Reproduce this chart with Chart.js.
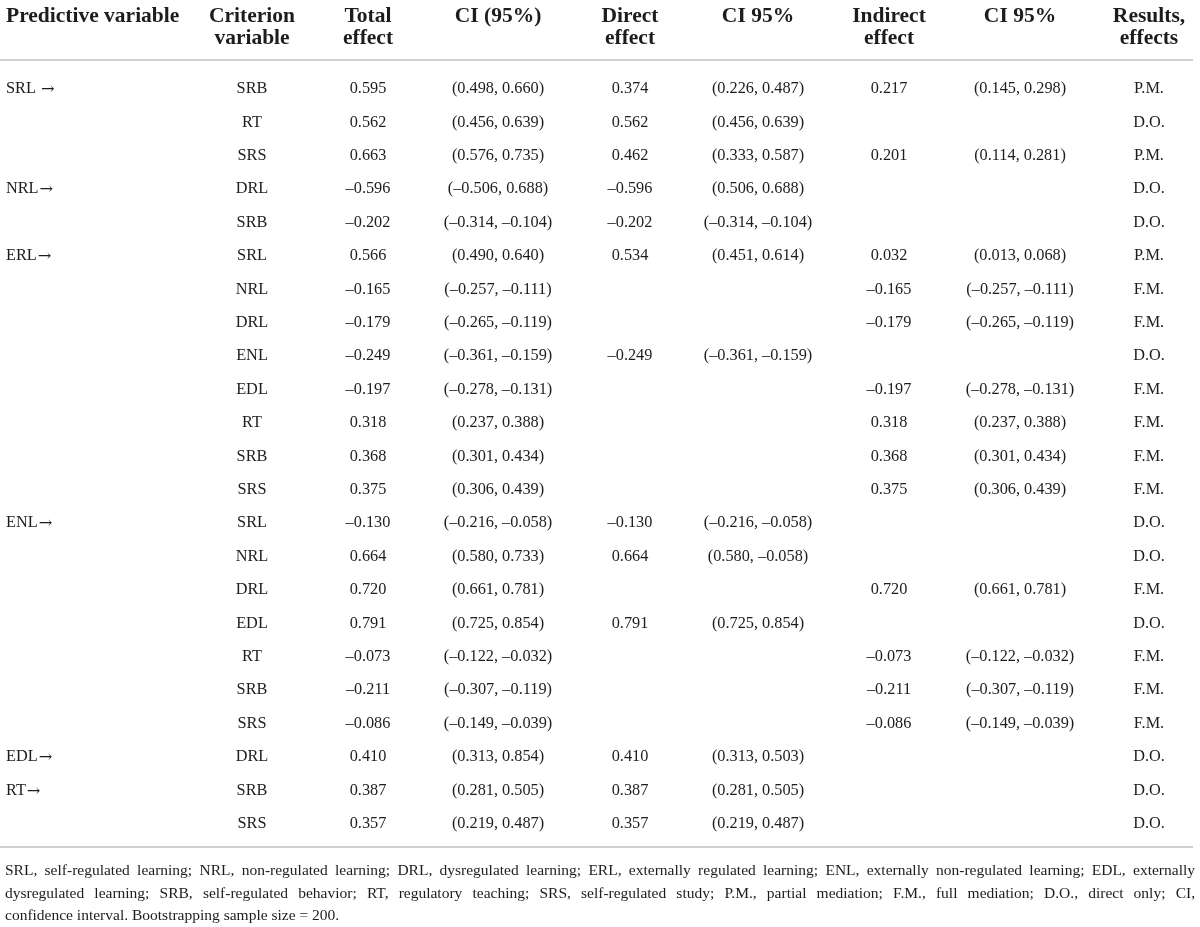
<!DOCTYPE html>
<html>
<head>
<meta charset="utf-8">
<script src="https://cdn.jsdelivr.net/npm/chart.js@4"></script>
<style>
  html, body { margin: 0; padding: 0; background: #ffffff; }
  #wrap { width: 1200px; height: 927px; }
</style>
</head>
<body>
<div id="wrap"><canvas id="c" width="1200" height="927"></canvas></div>
<script>
// ---------------- DATA ----------------
const headers = [
  ["Predictive variable"],
  ["Criterion", "variable"],
  ["Total", "effect"],
  ["CI (95%)"],
  ["Direct", "effect"],
  ["CI 95%"],
  ["Indirect", "effect"],
  ["CI 95%"],
  ["Results,", "effects"]
];

const predictors = ["SRL →", "", "", "NRL→", "", "ERL→", "", "", "", "", "", "", "",
                    "ENL→", "", "", "", "", "", "", "EDL→", "RT→", ""];

const criterion = ["SRB", "RT", "SRS", "DRL", "SRB", "SRL", "NRL", "DRL", "ENL", "EDL", "RT", "SRB", "SRS",
                   "SRL", "NRL", "DRL", "EDL", "RT", "SRB", "SRS", "DRL", "SRB", "SRS"];

const totalEffect = [0.595, 0.562, 0.663, -0.596, -0.202, 0.566, -0.165, -0.179, -0.249, -0.197, 0.318, 0.368, 0.375,
                     -0.130, 0.664, 0.720, 0.791, -0.073, -0.211, -0.086, 0.410, 0.387, 0.357];

const totalCI = [[0.498, 0.660], [0.456, 0.639], [0.576, 0.735], [-0.506, 0.688], [-0.314, -0.104],
                 [0.490, 0.640], [-0.257, -0.111], [-0.265, -0.119], [-0.361, -0.159], [-0.278, -0.131],
                 [0.237, 0.388], [0.301, 0.434], [0.306, 0.439], [-0.216, -0.058], [0.580, 0.733],
                 [0.661, 0.781], [0.725, 0.854], [-0.122, -0.032], [-0.307, -0.119], [-0.149, -0.039],
                 [0.313, 0.854], [0.281, 0.505], [0.219, 0.487]];

const directEffect = [0.374, 0.562, 0.462, -0.596, -0.202, 0.534, null, null, -0.249, null, null, null, null,
                      -0.130, 0.664, null, 0.791, null, null, null, 0.410, 0.387, 0.357];

const directCI = [[0.226, 0.487], [0.456, 0.639], [0.333, 0.587], [0.506, 0.688], [-0.314, -0.104],
                  [0.451, 0.614], null, null, [-0.361, -0.159], null, null, null, null,
                  [-0.216, -0.058], [0.580, -0.058], null, [0.725, 0.854], null, null, null,
                  [0.313, 0.503], [0.281, 0.505], [0.219, 0.487]];

const indirectEffect = [0.217, null, 0.201, null, null, 0.032, -0.165, -0.179, null, -0.197, 0.318, 0.368, 0.375,
                        null, null, 0.720, null, -0.073, -0.211, -0.086, null, null, null];

const indirectCI = [[0.145, 0.298], null, [0.114, 0.281], null, null, [0.013, 0.068], [-0.257, -0.111],
                    [-0.265, -0.119], null, [-0.278, -0.131], [0.237, 0.388], [0.301, 0.434], [0.306, 0.439],
                    null, null, [0.661, 0.781], null, [-0.122, -0.032], [-0.307, -0.119], [-0.149, -0.039],
                    null, null, null];

const results = ["P.M.", "D.O.", "P.M.", "D.O.", "D.O.", "P.M.", "F.M.", "F.M.", "D.O.", "F.M.", "F.M.", "F.M.", "F.M.",
                 "D.O.", "D.O.", "F.M.", "D.O.", "F.M.", "F.M.", "F.M.", "D.O.", "D.O.", "D.O."];

const footnoteLines = [
  "SRL, self-regulated learning; NRL, non-regulated learning; DRL, dysregulated learning; ERL, externally regulated learning; ENL, externally non-regulated learning; EDL, externally",
  "dysregulated learning; SRB, self-regulated behavior; RT, regulatory teaching; SRS, self-regulated study; P.M., partial mediation; F.M., full mediation; D.O., direct only; CI,",
  "confidence interval. Bootstrapping sample size = 200."
];

// ---------------- LAYOUT / STYLE ----------------
const colX = [6, 252, 368, 498, 630, 758, 889, 1020, 1149];   // column anchors (x-scale units)
const colAlign = ["left", "center", "center", "center", "center", "center", "center", "center", "center"];
const yHeader = [-2.17, -1.51];
const yHeaderRule = -0.883;
const yBottomRule = 22.69;
const yFoot = [23.41, 24.10, 24.76];
const FONT = '"Liberation Serif", "Times New Roman", serif';
const TEXT = "#1e1c1d";
const RULE = "#cfcfcf";

// ---------------- HELPERS ----------------
const fmt = v => (v < 0 ? "\u2013" : "") + Math.abs(v).toFixed(3);
const fmtCI = c => "(" + fmt(c[0]) + ", " + fmt(c[1]) + ")";

const columns = [
  predictors,
  criterion,
  totalEffect.map(v => v == null ? "" : fmt(v)),
  totalCI.map(c => c == null ? "" : fmtCI(c)),
  directEffect.map(v => v == null ? "" : fmt(v)),
  directCI.map(c => c == null ? "" : fmtCI(c)),
  indirectEffect.map(v => v == null ? "" : fmt(v)),
  indirectCI.map(c => c == null ? "" : fmtCI(c)),
  results
];

const datasets = columns.map((col, ci) => {
  const pts = [], labels = [];
  col.forEach((s, ri) => { if (s !== "") { pts.push({ x: colX[ci], y: ri }); labels.push(s); } });
  return { data: pts, cellLabels: labels, align: colAlign[ci], pointRadius: 0, showLine: false };
});

// draws text; an arrow at the end is drawn in a font with a larger arrow glyph
function drawCell(ctx, s, x, y, align, size) {
  const m = s.match(/^(.*?)(\s?)(→)$/);
  if (!m || align !== "left") { ctx.fillText(s, x, y); return; }
  ctx.font = size + "px " + FONT;
  ctx.fillText(m[1] + m[2], x, y);
  const w = ctx.measureText(m[1] + m[2]).width;
  ctx.font = size + 'px "DejaVu Serif", serif';
  ctx.fillText(m[3], x + w + 1, y + 1);
  ctx.font = size + "px " + FONT;
}

const tablePlugin = {
  id: "tablePlugin",
  afterDatasetsDraw(chart) {
    const ctx = chart.ctx;
    const xs = chart.scales.x, ys = chart.scales.y;
    ctx.save();
    ctx.fillStyle = TEXT;
    ctx.textBaseline = "middle";

    // header
    ctx.font = "bold 21.5px " + FONT;
    headers.forEach((h, ci) => {
      ctx.textAlign = colAlign[ci];
      h.forEach((line, li) => ctx.fillText(line, xs.getPixelForValue(colX[ci]), ys.getPixelForValue(yHeader[li])));
    });

    // rules
    ctx.strokeStyle = RULE;
    ctx.lineWidth = 2;
    [yHeaderRule, yBottomRule].forEach(v => {
      const py = Math.round(ys.getPixelForValue(v));
      ctx.beginPath();
      ctx.moveTo(xs.getPixelForValue(0), py);
      ctx.lineTo(xs.getPixelForValue(1193), py);
      ctx.stroke();
    });

    // cells
    const cellSize = 16.3;
    ctx.font = cellSize + "px " + FONT;
    chart.data.datasets.forEach((ds, di) => {
      const meta = chart.getDatasetMeta(di);
      ctx.textAlign = ds.align;
      meta.data.forEach((el, i) => drawCell(ctx, ds.cellLabels[i], el.x, el.y, ds.align, cellSize));
    });

    // footnote (justified)
    ctx.font = "15.5px " + FONT;
    ctx.textAlign = "left";
    const left = xs.getPixelForValue(5), right = xs.getPixelForValue(1195);
    footnoteLines.forEach((line, li) => {
      const py = ys.getPixelForValue(yFoot[li]);
      if (li === footnoteLines.length - 1) { ctx.fillText(line, left, py); return; }
      const words = line.split(" ");
      const wsum = words.reduce((a, w) => a + ctx.measureText(w).width, 0);
      const gap = (right - left - wsum) / (words.length - 1);
      let x = left;
      words.forEach(w => { ctx.fillText(w, x, py); x += ctx.measureText(w).width + gap; });
    });
    ctx.restore();
  }
};

new Chart(document.getElementById("c"), {
  type: "scatter",
  data: { datasets },
  options: {
    responsive: false,
    animation: false,
    events: [],
    layout: { padding: 0 },
    plugins: { legend: { display: false }, tooltip: { enabled: false } },
    scales: {
      x: { type: "linear", display: false, min: 0, max: 1200 },
      y: { type: "linear", display: false, reverse: true, min: -2.6647, max: 25.0898 }
    }
  },
  plugins: [tablePlugin]
});
</script>
</body>
</html>
